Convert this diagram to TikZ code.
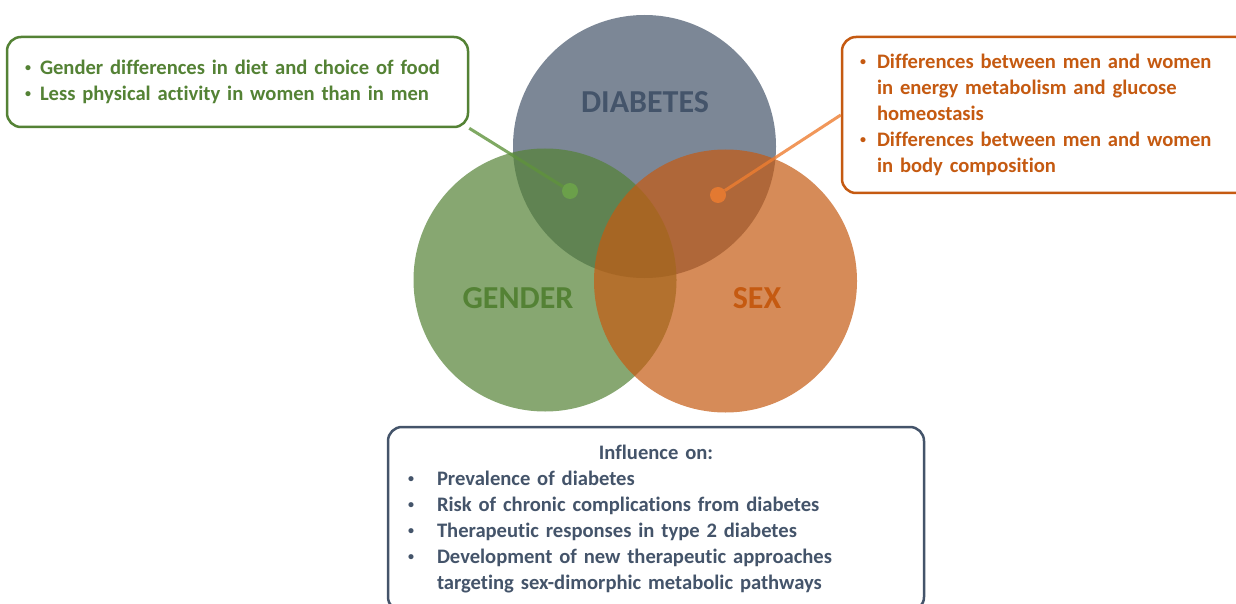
\documentclass[tikz,border=0pt]{standalone}
\usepackage{fontspec}
\setmainfont{Carlito}[Ligatures=CommonOff]
\usepackage{array}
\usetikzlibrary{positioning}
\definecolor{slate}{HTML}{44546A}
\definecolor{leaf}{HTML}{548235}
\definecolor{rust}{HTML}{C55A11}
\definecolor{leaflight}{HTML}{70AD47}
\definecolor{rustlight}{HTML}{ED7D31}
\newcommand{\smallbul}{\raisebox{0.3ex}{\fontsize{12}{12}\selectfont\textbullet}}

\begin{document}
\begin{tikzpicture}[x=1pt, y=-1pt,
    set/.style={circle, minimum size=263pt, inner sep=0pt, fill opacity=0.7},
    setlbl/.style={font=\fontsize{32}{32}\selectfont\bfseries},
    box/.style={draw=#1, text=#1, rounded corners=14pt, line width=2.5pt, fill=white, inner xsep=18pt, inner ysep=0pt, align=left, font=\fontsize{20.6}{26}\selectfont\bfseries},
    link/.style={line width=3pt, opacity=0.8},
    pin/.style={circle, minimum size=16pt, inner sep=0pt}
]
\useasboundingbox (0,0) rectangle (1236,604);

% the three sets
\node[set, fill=slate] (diab) at (644.5,146.5) {};
\node[set, fill=leaf] (gend) at (545,280) {};
\node[set, fill=rust] (sex) at (725.5,281) {};

\node[setlbl, slate] (diablbl) at (645,102) {DIABETES};
\node[setlbl, leaf] (gendlbl) at (518,298) {GENDER};
\node[setlbl, rust] (sexlbl) at (757,298) {SEX};

% boxes
\node[box=leaf, minimum height=90pt, text width=425pt] (lbox) at (237.5,82) {\raisebox{-2.5pt}{%
\begin{tabular}{@{}p{15pt}@{}l@{}}
\smallbul & Gender differences in diet and choice of food\\
\smallbul & Less physical activity in women than in men
\end{tabular}}};

\node[box=rust, minimum height=156pt, text width=372pt] (rbox) at (1046,115) {\raisebox{-2pt}{%
\begin{tabular}{@{}p{17pt}@{}l@{}}
\smallbul & Differences between men and women\\
 & in energy metabolism and glucose\\
 & homeostasis\\
\smallbul & Differences between men and women\\
 & in body composition
\end{tabular}}};

\node[box=slate, minimum height=184pt, text width=496pt, inner xsep=20pt] (bbox) at (656,519) {\raisebox{-2pt}{%
\begin{tabular}{@{}p{29pt}@{}p{467pt}@{}}
\multicolumn{2}{c}{Influence on:}\\
\smallbul & Prevalence of diabetes\\
\smallbul & Risk of chronic complications from diabetes\\
\smallbul & Therapeutic responses in type 2 diabetes\\
\smallbul & Development of new therapeutic approaches\\
 & targeting sex-dimorphic metabolic pathways
\end{tabular}}};

% pointers
\node[pin, fill=leaflight, fill opacity=0.7] (gdot) at (570,191) {};
\node[pin, fill=rustlight, fill opacity=0.85] (sdot) at (718,195) {};
\draw[link, leaflight!85!black] (lbox.south east) -- (gdot);
\draw[link, rustlight] (rbox.west) -- (sdot);
\end{tikzpicture}
\end{document}
